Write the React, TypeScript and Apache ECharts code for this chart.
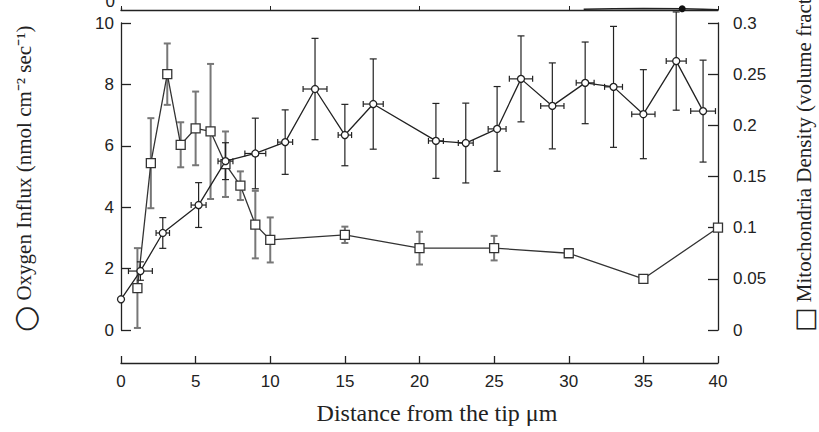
import React, { useEffect, useRef } from "react";
import * as echarts from "echarts";

// Oxygen influx (left axis, nmol cm^-2 sec^-1)
const oxygenDist = [0, 1.3, 2.8, 5.2, 7.0, 9.0, 11.0, 13.0, 15.0, 16.9, 21.1, 23.1, 25.2, 26.8, 28.9, 31.1, 33.0, 35.0, 37.2, 39.0];
const oxygenInflux = [1.0, 1.92, 3.16, 4.07, 5.5, 5.75, 6.12, 7.85, 6.35, 7.36, 6.16, 6.09, 6.55, 8.18, 7.3, 8.05, 7.92, 7.03, 8.76, 7.13];
const oxygenErr = [0, 0.3, 0.5, 0.73, 0.6, 1.15, 1.05, 1.65, 1.0, 1.47, 1.22, 1.3, 1.38, 1.4, 1.4, 1.33, 1.97, 1.45, 1.6, 1.66];
const oxygenDistErr = [0, 0.8, 0.45, 0.5, 0.5, 0.7, 0.5, 0.8, 0.45, 0.67, 0.5, 0.5, 0.6, 0.78, 0.78, 0.6, 0.6, 0.78, 0.67, 0.83];

// Mitochondria density (right axis, volume fraction)
const densityDist = [1.1, 2.0, 3.1, 4.0, 5.0, 6.0, 7.0, 8.0, 9.0, 10.0, 15.0, 20.0, 25.0, 30.0, 35.0, 40.0];
const mitoDensity = [0.041, 0.163, 0.25, 0.181, 0.197, 0.194, 0.162, 0.141, 0.103, 0.088, 0.093, 0.08, 0.08, 0.075, 0.05, 0.1];
const mitoErr = [0.039, 0.044, 0.03, 0.022, 0.036, 0.066, 0.032, 0.014, 0.033, 0.022, 0.008, 0.016, 0.012, 0, 0, 0];

// Fragment of the panel above (cut off at top of the picture)
const topDist = [31, 33, 35, 37.6, 39, 40];
const topValues = [0.5, 0.8, 0.9, 0.8, 0.5, 0.2];
const topMarkerIndex = 3;

const INK = "#222";

function errorBars(color: string, width: number) {
  return (params: any, api: any) => {
    const x = api.value(0);
    const y = api.value(1);
    const ey = api.value(2);
    const ex = api.value(3);
    const style = { stroke: color, lineWidth: width };
    const children: any[] = [];
    if (ey > 0) {
      const t = api.coord([x, y + ey]);
      const b = api.coord([x, y - ey]);
      children.push({ type: "line", shape: { x1: t[0], y1: t[1], x2: b[0], y2: b[1] }, style });
      children.push({ type: "line", shape: { x1: t[0] - 3.5, y1: t[1], x2: t[0] + 3.5, y2: t[1] }, style });
      children.push({ type: "line", shape: { x1: b[0] - 3.5, y1: b[1], x2: b[0] + 3.5, y2: b[1] }, style });
    }
    if (ex > 0) {
      const l = api.coord([x - ex, y]);
      const r = api.coord([x + ex, y]);
      const s2 = { stroke: INK, lineWidth: 1.2 };
      children.push({ type: "line", shape: { x1: l[0], y1: l[1], x2: r[0], y2: r[1] }, style: s2 });
      children.push({ type: "line", shape: { x1: l[0], y1: l[1] - 3, x2: l[0], y2: l[1] + 3 }, style: s2 });
      children.push({ type: "line", shape: { x1: r[0], y1: r[1] - 3, x2: r[0], y2: r[1] + 3 }, style: s2 });
    }
    return { type: "group", children };
  };
}

export default function App() {
  const ref = useRef<HTMLDivElement>(null);
  useEffect(() => {
    if (!ref.current) return;
    const chart = echarts.init(ref.current, undefined, { renderer: "svg" });
    const tickFont = { fontFamily: "Liberation Sans", fontSize: 17, color: INK };
    const axisLine = { show: true, onZero: false, lineStyle: { color: INK, width: 1.3 } };
    chart.setOption({
      animation: false,
      backgroundColor: "#fff",
      grid: [
        { left: 121, right: 101, top: 23, bottom: 102 },
        { left: 121, right: 101, top: 0, height: 8 },
      ],
      xAxis: [
        {
          type: "value",
          gridIndex: 0,
          min: 0,
          max: 40,
          interval: 5,
          offset: 33,
          axisLine,
          axisTick: { show: true, inside: true, length: 7, lineStyle: { color: INK, width: 1.3 } },
          axisLabel: { ...tickFont, margin: 10 },
          splitLine: { show: false },
        },
        {
          type: "value",
          gridIndex: 1,
          min: 0,
          max: 40,
          interval: 10,
          axisLine,
          axisTick: { show: true, inside: true, length: 4, lineStyle: { color: INK } },
          axisLabel: { show: false },
          splitLine: { show: false },
        },
      ],
      yAxis: [
        {
          type: "value",
          gridIndex: 0,
          position: "left",
          min: 0,
          max: 10,
          interval: 2,
          axisLine,
          axisTick: { show: true, inside: true, length: 10, lineStyle: { color: INK, width: 1.3 } },
          axisLabel: { ...tickFont, margin: 7 },
          splitLine: { show: false },
        },
        {
          type: "value",
          gridIndex: 0,
          position: "right",
          min: 0,
          max: 0.3,
          interval: 0.05,
          axisLine,
          axisTick: { show: true, inside: true, length: 10, lineStyle: { color: INK, width: 1.3 } },
          axisLabel: { ...tickFont, margin: 15, formatter: (v: number) => String(+v.toFixed(2)) },
          splitLine: { show: false },
        },
        {
          type: "value",
          gridIndex: 1,
          min: 0,
          max: 1.2,
          interval: 1.2,
          axisLine,
          axisTick: { show: false },
          axisLabel: {
            ...tickFont,
            margin: 6,
            verticalAlign: "bottom",
            formatter: (v: number) => (v === 0 ? "0" : ""),
          },
          splitLine: { show: false },
        },
      ],
      series: [
        {
          type: "custom",
          xAxisIndex: 0,
          yAxisIndex: 1,
          z: 1,
          renderItem: errorBars("#777", 2),
          data: densityDist.map((d, i) => [d, mitoDensity[i], mitoErr[i], 0]),
        },
        {
          type: "custom",
          xAxisIndex: 0,
          yAxisIndex: 0,
          z: 1,
          renderItem: errorBars(INK, 1.2),
          data: oxygenDist.map((d, i) => [d, oxygenInflux[i], oxygenErr[i], oxygenDistErr[i]]),
        },
        {
          type: "line",
          name: "Mitochondria Density",
          xAxisIndex: 0,
          yAxisIndex: 1,
          z: 3,
          symbol: "rect",
          symbolSize: 9,
          itemStyle: { color: "#fff", borderColor: "#333", borderWidth: 1.3 },
          lineStyle: { color: "#333", width: 1.3 },
          data: densityDist.map((d, i) => [d, mitoDensity[i]]),
        },
        {
          type: "line",
          name: "Oxygen Influx",
          xAxisIndex: 0,
          yAxisIndex: 0,
          z: 4,
          symbol: "circle",
          symbolSize: 7,
          itemStyle: { color: "#fff", borderColor: INK, borderWidth: 1.3 },
          lineStyle: { color: INK, width: 1.3 },
          data: oxygenDist.map((d, i) => [d, oxygenInflux[i]]),
        },
        {
          type: "line",
          xAxisIndex: 1,
          yAxisIndex: 2,
          symbol: "none",
          showSymbol: true,
          clip: false,
          itemStyle: { color: "#111" },
          lineStyle: { color: INK, width: 1.5 },
          data: topDist.map((d, i) =>
            i === topMarkerIndex
              ? { value: [d, topValues[i]], symbol: "circle", symbolSize: 7 }
              : { value: [d, topValues[i]] }
          ),
        },
      ],
      graphic: [
        {
          type: "text",
          x: 24,
          y: 332,
          rotation: Math.PI / 2,
          style: {
            text: "{c|○} Oxygen Influx (nmol cm⁻² sec⁻¹)",
            fontFamily: "Liberation Serif",
            fontSize: 21,
            fill: INK,
            textAlign: "left",
            textVerticalAlign: "middle",
            rich: { c: { fontSize: 30, fontFamily: "DejaVu Sans", fill: INK } },
          },
        },
        {
          type: "text",
          x: 804,
          y: 332,
          rotation: Math.PI / 2,
          style: {
            text: "{c|□} Mitochondria Density (volume fraction)",
            fontFamily: "Liberation Serif",
            fontSize: 21,
            fill: INK,
            textAlign: "left",
            textVerticalAlign: "middle",
            rich: { c: { fontSize: 26, fontFamily: "DejaVu Sans", fill: INK } },
          },
        },
        {
          type: "text",
          x: 437,
          y: 413,
          style: {
            text: "Distance from the tip μm",
            fontFamily: "Liberation Serif",
            fontSize: 24,
            fill: INK,
            textAlign: "center",
            textVerticalAlign: "middle",
          },
        },
      ],
    });
    return () => chart.dispose();
  }, []);
  return (
    <div
      ref={ref}
      style={{ position: "fixed", left: 0, top: 0, width: 819, height: 432, background: "#fff" }}
    />
  );
}
